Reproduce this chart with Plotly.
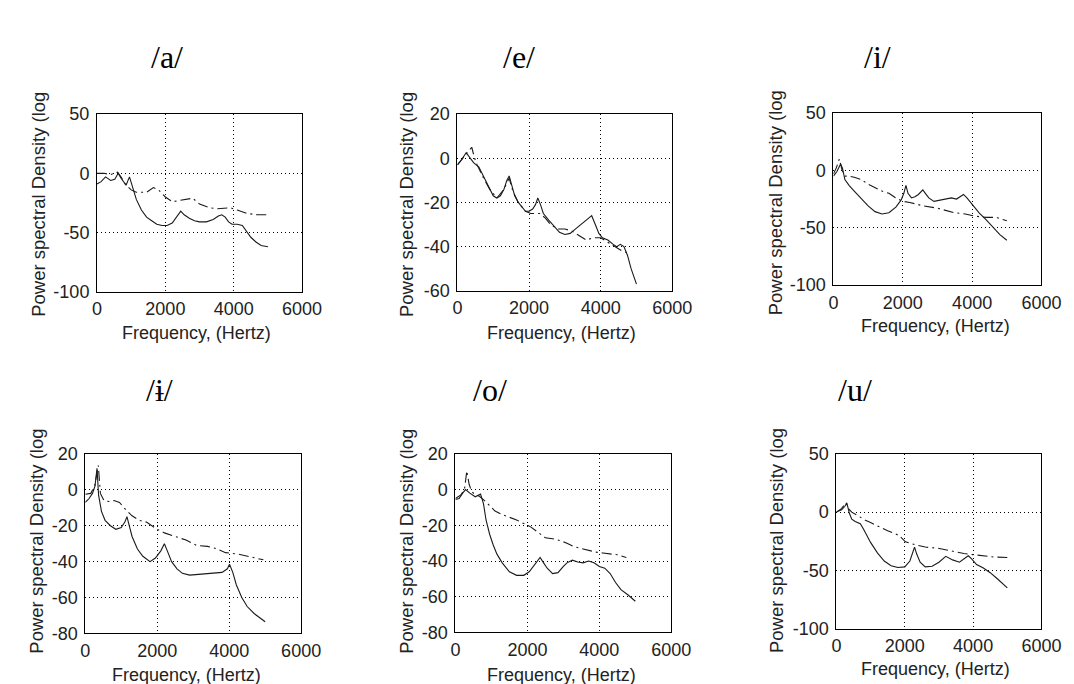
import plotly.graph_objects as go

# ---------------- data ----------------
vowel_titles = ["/a/", "/e/", "/i/", "/ɨ/", "/o/", "/u/"]
x_ticks = [0, 2000, 4000, 6000]
x_ticktext = ["0", "2000", "4000", "6000"]
y_ticks_50 = [-100, -50, 0, 50]
y_ticks_20_60 = [-60, -40, -20, 0, 20]
y_ticks_20_80 = [-80, -60, -40, -20, 0, 20]

# /a/
a_solid_f = [0, 120, 250, 400, 520, 620, 700, 850, 950, 1050, 1150, 1300, 1450, 1600, 1750, 1900, 2050, 2200, 2350,
             2450, 2550, 2700, 2850, 3000, 3200, 3400, 3550, 3650, 3750, 3850, 3950, 4100, 4250, 4350, 4500, 4650,
             4800, 5000]
a_solid_p = [-9, -7, -3, -6, -5, 0, -4, -10, -3, -12, -22, -31, -37, -40, -43, -44, -44, -42, -36, -32, -35, -38,
             -40, -41, -41, -39, -36, -35, -37, -41, -43, -43, -44, -48, -54, -58, -61, -62]
a_env_f = [0, 200, 400, 600, 700, 850, 1000, 1150, 1450, 1650, 1800, 2000, 2200, 2450, 2650, 2800, 3000, 3300, 3500,
           3750, 3900, 4100, 4400, 4700, 5000]
a_env_p = [0, 0, -1, 1, -3, -10, -14, -16, -16, -12, -14, -20, -24, -23, -22, -21, -26, -29, -30, -29, -29, -31, -34,
           -35, -35]

# /e/
e_solid_f = [0, 100, 245, 350, 450, 600, 750, 900, 1000, 1100, 1200, 1300, 1380, 1445, 1520, 1600, 1700, 1800, 1900,
             2000, 2100, 2180, 2245, 2320, 2400, 2550, 2700, 2850, 3000, 3150, 3300, 3450, 3600, 3700, 3750, 3850,
             3950, 4050, 4200, 4350, 4450, 4550, 4650, 4750, 4850, 5000]
e_solid_p = [-3, -1, 2.5, 0, -2, -4, -9, -14, -17, -18, -17, -14, -10, -8, -13, -17, -20, -22, -24, -24, -23, -21,
             -18, -21, -25, -28, -31, -33.5, -34.5, -34, -32, -30, -28, -26.5, -26, -30, -34, -36, -37, -39, -40, -39,
             -40, -44, -50, -57]
e_env_f = [0, 150, 300, 400, 480, 550, 700, 900, 1100, 1300, 1445, 1550, 1700, 1900, 2050, 2200, 2300, 2450, 2600,
           2800, 3000, 3200, 3400, 3600, 3800, 4000, 4200, 4400, 4600, 4800]
e_env_p = [-3, 0, 3, 5, 0, -3, -8, -14, -18, -14, -9, -15, -20, -24, -25, -25, -25, -27, -30, -32, -32, -33, -35,
           -37, -36, -36, -38, -40, -42, -43]

# /i/
i_solid_f = [0, 100, 206, 260, 330, 450, 600, 800, 1000, 1200, 1400, 1600, 1800, 1950, 2030, 2090, 2150, 2250, 2350,
             2450, 2578, 2650, 2750, 2900, 3050, 3200, 3400, 3550, 3650, 3750, 3850, 4000, 4200, 4400, 4600, 4800,
             5000]
i_solid_p = [-5, -1, 5.5, 2, -8, -13, -18, -25, -31, -36, -38, -37, -32, -26, -20, -13, -20, -24, -23, -21, -17, -20,
             -24, -27, -26, -25, -24, -25, -23, -21, -24, -30, -37, -43, -50, -56, -61]
i_env_f = [0, 80, 170, 250, 330, 450, 600, 800, 1000, 1200, 1400, 1600, 1800, 2000, 2200, 2600, 3000, 3500, 3800,
           4100, 4400, 4700, 5000]
i_env_p = [-3, 2, 10, 0, -5, -5, -6, -8, -12, -15, -18, -20, -24, -27, -28, -31, -33, -37, -38, -40, -41, -41, -44]

# /ɨ/
y_solid_f = [0, 100, 200, 270, 326, 370, 450, 550, 700, 850, 1000, 1100, 1158, 1220, 1300, 1450, 1600, 1800, 1950,
             2100, 2199, 2280, 2400, 2550, 2700, 2900, 3200, 3500, 3800, 3950, 4009, 4100, 4200, 4350, 4500, 4700,
             4900, 5000]
y_solid_p = [-7, -5, -2, 2, 12, -3, -12, -17, -20, -22, -21, -18, -15, -20, -26, -33, -37, -40, -38, -34, -30, -34,
             -40, -44, -46.5, -47.5, -47, -46.5, -46, -44, -41.5, -46, -53, -60, -65, -69, -72, -73.5]
y_env_f = [0, 150, 260, 362, 420, 520, 650, 800, 950, 1100, 1300, 1500, 1700, 2000, 2200, 2500, 2800, 3100, 3400,
           3600, 3900, 4300, 4600, 4950]
y_env_p = [-2.5, -2, 2, 13.5, -2, -6, -6.5, -6, -7, -10.5, -14.5, -17, -18, -22, -24, -26, -28, -31, -31.5, -32.5,
           -35, -36, -37.5, -39]

# /o/
o_solid_f = [0, 100, 200, 280, 400, 550, 697, 780, 850, 950, 1050, 1150, 1300, 1500, 1700, 1900, 2050, 2200, 2353,
             2450, 2550, 2700, 2850, 3000, 3100, 3250, 3400, 3550, 3700, 3850, 4000, 4150, 4300, 4450, 4600, 4800,
             5000]
o_solid_p = [-5.5, -5, -2, 0, -2, -4, -2.5, -8, -17, -25, -31, -36, -41, -46, -48, -48, -46, -42, -38, -41, -44, -47,
             -46.5, -43, -41, -39.5, -40.5, -41, -40, -41, -43, -44, -47, -52, -56, -59, -62.5]
o_env_f = [0, 150, 250, 316, 380, 450, 550, 650, 800, 950, 1100, 1300, 1500, 1700, 1900, 2100, 2300, 2500, 2700,
           2900, 3100, 3300, 3500, 3700, 3900, 4100, 4300, 4500, 4750]
o_env_p = [-5, -3, 0, 10.5, 3, -1, -3, -3.5, -6, -9, -12, -14, -15.5, -17, -19, -21, -24, -27, -27.5, -28.5, -30,
           -32, -33, -34, -35, -35.5, -36, -36.5, -38]

# /u/
u_solid_f = [0, 150, 250, 305, 380, 450, 550, 700, 800, 900, 1000, 1200, 1400, 1600, 1800, 2000, 2150, 2286, 2350,
             2450, 2600, 2800, 3000, 3200, 3400, 3600, 3750, 3857, 3950, 4100, 4300, 4500, 4700, 4850, 5000]
u_solid_p = [0, 2, 5, 8, -1, -6, -8, -10, -15, -21, -26, -35, -42, -46, -47.5, -47, -42, -30, -36, -43, -47, -46.5,
             -43, -38, -41, -43, -40, -37.5, -40, -45, -48, -52, -57, -61, -65]
u_env_f = [0, 150, 280, 350, 450, 590, 700, 850, 1000, 1200, 1500, 1830, 2020, 2300, 2600, 2970, 3300, 3730, 4000,
           4300, 4600, 5000]
u_env_p = [0, 3, 8, 3, 0, -2.5, -5, -7, -9, -12, -16, -20, -25.5, -28, -30, -31, -33, -35.5, -36.5, -37.5, -38.5,
           -39]

series = [
    (a_solid_f, a_solid_p, a_env_f, a_env_p, [-100, 50], y_ticks_50),
    (e_solid_f, e_solid_p, e_env_f, e_env_p, [-60, 20], y_ticks_20_60),
    (i_solid_f, i_solid_p, i_env_f, i_env_p, [-100, 50], y_ticks_50),
    (y_solid_f, y_solid_p, y_env_f, y_env_p, [-80, 20], y_ticks_20_80),
    (o_solid_f, o_solid_p, o_env_f, o_env_p, [-80, 20], y_ticks_20_80),
    (u_solid_f, u_solid_p, u_env_f, u_env_p, [-100, 50], y_ticks_50),
]

# ---------------- layout (pixel boxes) ----------------
W, H = 1074, 684
boxes = [  # x0, x1, y0(top), y1(bottom) in px
    (86, 296, 99, 282),
    (455, 675, 99, 281),
    (840, 1053, 98, 275),
    (74, 295, 449, 634),
    (453, 674, 449, 633),
    (843, 1053, 449, 629),
]
title_pos = [(158, 40), (518, 40), (885, 40), (150, 383), (488, 383), (862, 383)]
ylab_pos = [(26, 192), (403, 192), (781, 190), (24, 539), (403, 539), (781, 538)]
xlab_pos = [(188, 324), (562, 324), (944, 317), (178, 677), (562, 677), (944, 671)]

font_sans = "Liberation Sans, Arial, sans-serif"
font_serif = "Liberation Serif, Times New Roman, serif"
ink = "#1a1a1a"

fig = go.Figure()
annotations = []
for k, (sf, sp, ef, ep, yr, yt) in enumerate(series):
    n = "" if k == 0 else str(k + 1)
    xa, ya = "x" + n, "y" + n
    fig.add_trace(go.Scatter(x=sf, y=sp, mode="lines", xaxis=xa, yaxis=ya,
                             line=dict(color=ink, width=1.1), showlegend=False, hoverinfo="skip"))
    fig.add_trace(go.Scatter(x=ef, y=ep, mode="lines", xaxis=xa, yaxis=ya,
                             line=dict(color=ink, width=1.1, dash="10px,4px,2px,4px"),
                             showlegend=False, hoverinfo="skip"))
    x0, x1, y0, y1 = boxes[k]
    common = dict(showline=True, mirror=True, linecolor="black", linewidth=1,
                  showgrid=True, gridcolor="black", griddash="1px,3px", gridwidth=1,
                  zeroline=False, ticks="",
                  tickfont=dict(family=font_sans, size=18, color="#222"))
    fig.layout["xaxis" + n] = dict(domain=[x0 / W, x1 / W], anchor=ya, range=[0, 6000],
                                   tickvals=x_ticks, ticktext=x_ticktext, ticklabelstandoff=1, **common)
    fig.layout["yaxis" + n] = dict(domain=[1 - y1 / H, 1 - y0 / H], anchor=xa, range=yr,
                                   tickvals=yt, ticktext=[str(v) for v in yt], ticklabelstandoff=3, **common)
    tx, ty = title_pos[k]
    annotations.append(dict(text=vowel_titles[k], x=tx / W, y=1 - ty / H, xref="paper", yref="paper",
                            showarrow=False, xanchor="center", yanchor="middle",
                            font=dict(family=font_serif, size=32, color="black")))
    lx, ly = ylab_pos[k]
    annotations.append(dict(text="Power spectral Density (log", x=lx / W, y=1 - ly / H, xref="paper",
                            yref="paper", showarrow=False, textangle=-90, xanchor="center", yanchor="middle",
                            font=dict(family=font_sans, size=18.5, color="#222")))
    fx, fy = xlab_pos[k]
    annotations.append(dict(text="Frequency, (Hertz)", x=fx / W, y=1 - fy / H, xref="paper", yref="paper",
                            showarrow=False, xanchor="center", yanchor="middle",
                            font=dict(family=font_sans, size=18, color="#222")))

fig.update_layout(width=W, height=H, margin=dict(l=0, r=0, t=0, b=0),
                  paper_bgcolor="white", plot_bgcolor="white", annotations=annotations)
fig.write_html("out.html")
